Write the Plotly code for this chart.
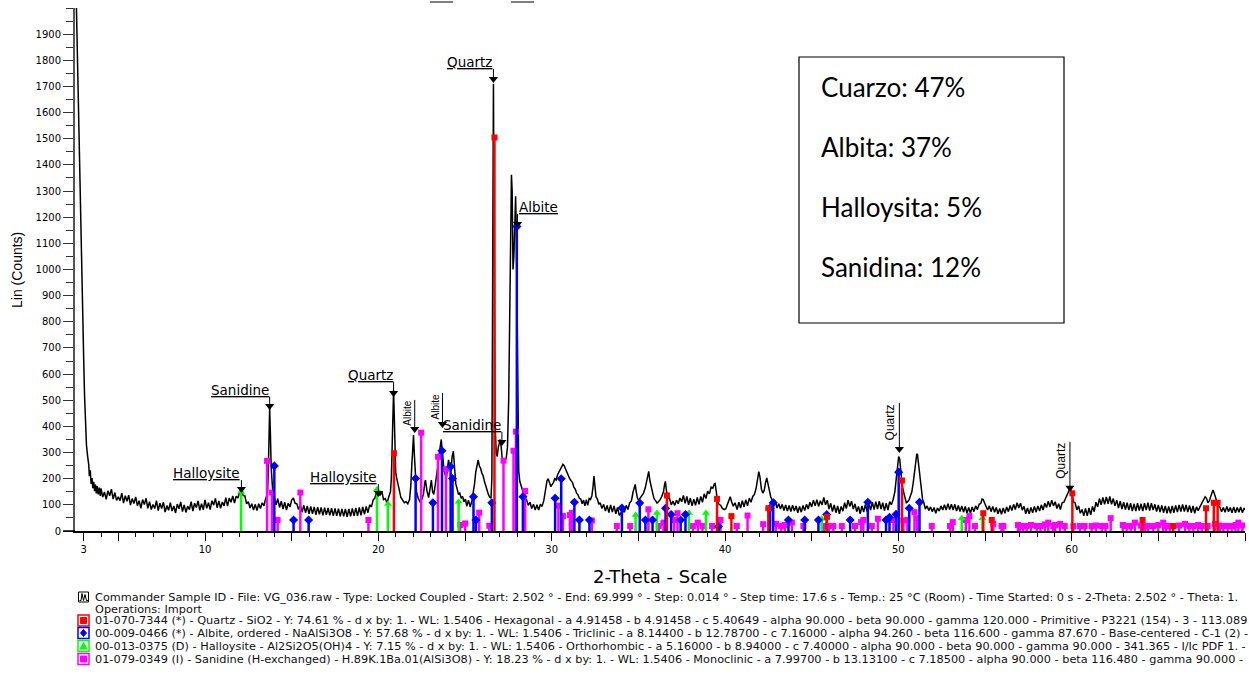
import plotly.graph_objects as go

# ---------------------------------------------------------------------------
# Diffractogram VG_036 : measured scan (2-theta in degrees, counts)
# ---------------------------------------------------------------------------
scan_steep = [
    [2.52, 2200], [2.58, 2000], [2.63, 1850], [2.68, 1710], [2.73, 1500], [2.77, 1300],
    [2.84, 1100], [2.91, 900], [2.96, 760], [3.00, 660], [3.05, 520], [3.10, 420],
    [3.16, 330], [3.22, 290], [3.29, 255], [3.33, 210], [3.38, 232], [3.43, 180],
    [3.48, 202], [3.53, 164], [3.58, 188], [3.63, 152], [3.68, 178], [3.73, 144],
    [3.78, 172], [3.84, 140], [3.90, 166], [3.96, 134],
]

scan_low = [
    [4.0, 163], [4.1, 130], [4.2, 149], [4.3, 121], [4.4, 154], [4.5, 135], [4.6, 160], [4.7, 122], [4.8, 147], [4.9, 117],
    [5.0, 131], [5.1, 116], [5.2, 145], [5.3, 107], [5.4, 135], [5.5, 114], [5.6, 137], [5.7, 99], [5.8, 124], [5.9, 105],
    [6.0, 130], [6.1, 97], [6.2, 116], [6.3, 87], [6.4, 120], [6.5, 101], [6.6, 125], [6.7, 87], [6.8, 112], [6.9, 82],
    [7.0, 101], [7.1, 86], [7.2, 116], [7.3, 78], [7.4, 106], [7.5, 86], [7.6, 110], [7.7, 72], [7.8, 97], [7.9, 79],
    [8.0, 108], [8.1, 76], [8.2, 96], [8.3, 69], [8.4, 103], [8.5, 85], [8.6, 111], [8.7, 74], [8.8, 100], [8.9, 71],
    [9.0, 95], [9.1, 82], [9.2, 112], [9.3, 76], [9.4, 106], [9.5, 90], [9.6, 115], [9.7, 79], [9.8, 104], [9.9, 81],
    [10.0, 119], [10.1, 87], [10.2, 108], [10.3, 82], [10.4, 116], [10.5, 99], [10.6, 125], [10.7, 89], [10.8, 115], [10.9, 87],
    [11.0, 111], [11.1, 96], [11.2, 128], [11.3, 95], [11.4, 126], [11.5, 110], [11.6, 134], [11.7, 107], [11.8, 133], [11.9, 126],
    [12.0, 150], [12.1, 160], [12.2, 136], [12.3, 134], [12.4, 104], [12.5, 112], [12.6, 88], [12.7, 104], [12.8, 80], [12.9, 102],
    [13.0, 78], [13.1, 104], [13.2, 86], [13.3, 108], [13.4, 96], [13.5, 124], [13.6, 140], [13.65, 220], [13.7, 400], [13.73, 470],
    [13.77, 380], [13.82, 240], [13.9, 160], [14.0, 128], [14.1, 100], [14.2, 124], [14.3, 90], [14.4, 114], [14.5, 84], [14.6, 110],
    [14.7, 80], [14.8, 106], [14.9, 92], [15.0, 118], [15.1, 126], [15.2, 106], [15.3, 104], [15.4, 82], [15.5, 100], [15.6, 72],
    [15.7, 98], [15.8, 70], [15.9, 96], [16.0, 66], [16.1, 94], [16.2, 66], [16.3, 92], [16.4, 62], [16.5, 91], [16.6, 64],
    [16.7, 90], [16.8, 60], [16.9, 89], [17.0, 62], [17.1, 88], [17.2, 60], [17.3, 87], [17.4, 58], [17.5, 86], [17.6, 58],
    [17.7, 85], [17.8, 56], [17.9, 84], [18.0, 56], [18.1, 84], [18.2, 54], [18.3, 84], [18.4, 56], [18.5, 86], [18.6, 58],
    [18.7, 88], [18.8, 58], [18.9, 90], [19.0, 60], [19.1, 92], [19.2, 64], [19.3, 94], [19.4, 70], [19.5, 100], [19.6, 92],
    [19.7, 118], [19.8, 126], [19.9, 150], [20.0, 156], [20.1, 136], [20.2, 152], [20.3, 120], [20.4, 124], [20.5, 106], [20.6, 130],
]

scan_mid = [
    [20.7, 150], [20.75, 200], [20.8, 320], [20.85, 500], [20.88, 538], [20.92, 440], [20.96, 300], [21.0, 225],
    [21.05, 205], [21.1, 185], [21.2, 160], [21.3, 128], [21.4, 118], [21.5, 108], [21.6, 112], [21.7, 104],
    [21.8, 120], [21.87, 170], [21.93, 250], [21.98, 330], [22.03, 367], [22.08, 290], [22.13, 200], [22.2, 150],
    [22.3, 125], [22.4, 112], [22.5, 120], [22.6, 140], [22.68, 185], [22.72, 195], [22.8, 155], [22.9, 128],
    [22.98, 160], [23.06, 195], [23.13, 150], [23.2, 140], [23.28, 175], [23.36, 210], [23.45, 255], [23.52, 300],
    [23.58, 340], [23.63, 350], [23.7, 295], [23.78, 240], [23.86, 215], [23.93, 205], [24.0, 245], [24.05, 272],
    [24.12, 240], [24.19, 232], [24.26, 285], [24.33, 305], [24.4, 240], [24.47, 180], [24.55, 160], [24.62, 140],
    [24.7, 145], [24.78, 125], [24.86, 132], [24.94, 112], [25.03, 122], [25.1, 94], [25.2, 118], [25.3, 92],
    [25.4, 116], [25.47, 140], [25.55, 180], [25.62, 225], [25.7, 262], [25.76, 272], [25.83, 248], [25.9, 240],
    [25.97, 222], [26.05, 210], [26.12, 190], [26.2, 170], [26.28, 150], [26.35, 140], [26.42, 130], [26.5, 125],
    [26.55, 200], [26.59, 700], [26.62, 1400], [26.64, 1710], [26.67, 1300], [26.7, 700], [26.74, 400], [26.8, 300],
    [26.86, 285], [26.92, 320], [26.98, 345], [27.03, 350], [27.09, 320], [27.15, 275], [27.22, 258], [27.3, 265],
    [27.38, 280], [27.45, 320], [27.52, 500], [27.58, 900], [27.64, 1250], [27.68, 1362], [27.72, 1300], [27.77, 1000],
    [27.82, 1050], [27.87, 1200], [27.92, 1280], [27.96, 1150], [28.0, 800], [28.05, 420], [28.1, 230], [28.16, 190],
    [28.22, 180], [28.3, 160], [28.38, 135], [28.46, 125], [28.55, 120], [28.65, 98], [28.75, 110], [28.85, 86],
    [28.95, 102], [29.05, 80], [29.15, 100], [29.25, 80], [29.35, 102], [29.45, 94],
]

scan_high = [
    [29.55, 118], [29.65, 160], [29.73, 192], [29.8, 200], [29.88, 185], [29.95, 170], [30.03, 178], [30.1, 185],
    [30.18, 200], [30.26, 195], [30.34, 215], [30.42, 225], [30.5, 238], [30.58, 245], [30.65, 255], [30.72, 250],
    [30.8, 235], [30.88, 222], [30.96, 212], [31.04, 200], [31.12, 192], [31.2, 185], [31.28, 168], [31.36, 160],
    [31.44, 145], [31.52, 138], [31.6, 125], [31.68, 122], [31.76, 104], [31.84, 118], [31.92, 96], [32.0, 120],
    [32.08, 98], [32.16, 124], [32.24, 120], [32.32, 135], [32.38, 165], [32.44, 210], [32.5, 170], [32.56, 130],
    [32.64, 122], [32.72, 102], [32.8, 108], [32.9, 86], [33.0, 102], [33.1, 76], [33.2, 98], [33.3, 70],
    [33.4, 100], [33.5, 72], [33.6, 96], [33.7, 66], [33.8, 90], [33.9, 60], [34.0, 70], [34.05, 50],
    [34.1, 80], [34.2, 72], [34.3, 98], [34.4, 82], [34.5, 108], [34.6, 115], [34.7, 150], [34.76, 172],
    [34.82, 178], [34.88, 150], [34.95, 125], [35.02, 118], [35.1, 125], [35.2, 132], [35.3, 145], [35.4, 165],
    [35.48, 195], [35.55, 222], [35.6, 228], [35.66, 195], [35.74, 165], [35.82, 148], [35.9, 125], [36.0, 115],
    [36.08, 107], [36.16, 112], [36.26, 120], [36.35, 132], [36.45, 150], [36.52, 180], [36.56, 190], [36.62, 155],
    [36.7, 125], [36.8, 124], [36.9, 100], [37.0, 114], [37.1, 98], [37.2, 118], [37.3, 104], [37.4, 126],
    [37.5, 112], [37.6, 136], [37.7, 106], [37.8, 132], [37.9, 100], [38.0, 126], [38.1, 96], [38.2, 122],
    [38.3, 98], [38.4, 128], [38.5, 102], [38.6, 132], [38.7, 110], [38.8, 142], [38.9, 124], [39.0, 152],
    [39.1, 142], [39.2, 168], [39.3, 164], [39.38, 180], [39.43, 182], [39.5, 150], [39.56, 115], [39.65, 102],
    [39.75, 98], [39.85, 86], [39.95, 82], [40.05, 85], [40.15, 105], [40.25, 125], [40.3, 131], [40.38, 112],
    [40.48, 95], [40.58, 108], [40.7, 82], [40.8, 110], [40.9, 88], [41.0, 116], [41.1, 92], [41.2, 120],
    [41.3, 96], [41.4, 126], [41.5, 110], [41.6, 132], [41.7, 140], [41.8, 165], [41.88, 200], [41.95, 227],
    [42.02, 205], [42.1, 160], [42.18, 145], [42.26, 155], [42.34, 185], [42.41, 203], [42.48, 180], [42.56, 150],
    [42.64, 130], [42.72, 119], [42.8, 120], [42.9, 114], [43.0, 88], [43.1, 104], [43.2, 84], [43.3, 102],
    [43.4, 78], [43.5, 100], [43.6, 76], [43.7, 98], [43.8, 74], [43.9, 99], [44.0, 76], [44.1, 96],
    [44.2, 70], [44.3, 94], [44.4, 72], [44.5, 98], [44.6, 78], [44.7, 102], [44.8, 84], [44.9, 110],
    [45.0, 92], [45.1, 118], [45.2, 96], [45.3, 120], [45.4, 94], [45.5, 116], [45.6, 100], [45.7, 128],
    [45.8, 100], [45.9, 118], [46.0, 84], [46.1, 106], [46.2, 74], [46.3, 100], [46.4, 70], [46.5, 96],
    [46.6, 66], [46.7, 94], [46.8, 76], [46.9, 108], [47.0, 86], [47.1, 118], [47.2, 94], [47.3, 114],
    [47.4, 84], [47.5, 104], [47.6, 74], [47.7, 94], [47.8, 66], [47.9, 96], [48.0, 72], [48.1, 102],
    [48.2, 74], [48.3, 106], [48.4, 80], [48.5, 110], [48.6, 82], [48.7, 112], [48.8, 84], [48.9, 114],
    [49.0, 84], [49.1, 108], [49.2, 78], [49.3, 106], [49.4, 80], [49.5, 112], [49.6, 100], [49.7, 120],
    [49.8, 150], [49.88, 200], [49.95, 250], [50.02, 285], [50.08, 275], [50.15, 210], [50.22, 175], [50.3, 150],
    [50.38, 125], [50.46, 108], [50.54, 112], [50.62, 120], [50.7, 135], [50.78, 150], [50.86, 185], [50.93, 225],
    [51.0, 265], [51.06, 292], [51.1, 295], [51.16, 260], [51.24, 200], [51.32, 160], [51.4, 120], [51.48, 106],
    [51.56, 84], [51.66, 96], [51.76, 78], [51.86, 92], [51.96, 74], [52.06, 90], [52.16, 68], [52.26, 88],
    [52.36, 76], [52.46, 96], [52.56, 80], [52.66, 100], [52.76, 80], [52.86, 104], [52.96, 82], [53.06, 102],
    [53.16, 80], [53.26, 102], [53.36, 76], [53.46, 98], [53.56, 74], [53.66, 96], [53.76, 72], [53.86, 94],
    [53.96, 68], [54.06, 90], [54.16, 68], [54.26, 92], [54.36, 74], [54.46, 96], [54.56, 82], [54.66, 102],
    [54.76, 106], [54.83, 122], [54.9, 120], [54.97, 108], [55.05, 98], [55.15, 80], [55.25, 96], [55.35, 74],
    [55.45, 94], [55.55, 72], [55.65, 90], [55.75, 66], [55.85, 86], [55.95, 64], [56.05, 88], [56.15, 68],
    [56.25, 92], [56.35, 74], [56.45, 98], [56.55, 78], [56.65, 102], [56.75, 82], [56.85, 108], [56.95, 88],
    [57.05, 106], [57.15, 80], [57.25, 94], [57.35, 66], [57.45, 88], [57.55, 66], [57.65, 90], [57.75, 70],
    [57.85, 94], [57.95, 72], [58.05, 96], [58.15, 76], [58.25, 100], [58.35, 80], [58.45, 106], [58.55, 90],
    [58.65, 114], [58.75, 92], [58.85, 118], [58.95, 96], [59.05, 112], [59.15, 86], [59.25, 104], [59.35, 82],
    [59.45, 108], [59.55, 110], [59.65, 125], [59.75, 140], [59.85, 155], [59.92, 165], [59.98, 150], [60.05, 128],
    [60.12, 110], [60.2, 108], [60.3, 80], [60.4, 96], [60.5, 68], [60.6, 82], [60.7, 58], [60.8, 86],
    [60.9, 58], [61.0, 88], [61.1, 62], [61.2, 94], [61.3, 74], [61.4, 110], [61.5, 92], [61.6, 124],
    [61.7, 100], [61.8, 128], [61.9, 102], [62.0, 130], [62.1, 104], [62.2, 132], [62.3, 102], [62.4, 124],
    [62.5, 96], [62.6, 118], [62.7, 88], [62.8, 114], [62.9, 84], [63.0, 110], [63.1, 82], [63.2, 108],
    [63.3, 80], [63.4, 106], [63.5, 76], [63.6, 104], [63.7, 76], [63.8, 106], [63.9, 78], [64.0, 104],
    [64.1, 76], [64.2, 106], [64.3, 80], [64.4, 108], [64.5, 78], [64.6, 106], [64.7, 80], [64.8, 102],
    [64.9, 74], [65.0, 100], [65.1, 72], [65.2, 98], [65.3, 70], [65.4, 96], [65.5, 68], [65.6, 94],
    [65.7, 68], [65.8, 96], [65.9, 70], [66.0, 98], [66.1, 72], [66.2, 100], [66.3, 74], [66.4, 102],
    [66.5, 74], [66.6, 100], [66.7, 72], [66.8, 98], [66.9, 70], [67.0, 96], [67.1, 68], [67.2, 92],
    [67.3, 78], [67.4, 92], [67.5, 105], [67.6, 120], [67.7, 131], [67.78, 125], [67.86, 108], [67.94, 115],
    [68.02, 135], [68.1, 152], [68.15, 157], [68.22, 145], [68.3, 125], [68.38, 115], [68.46, 95], [68.55, 92],
    [68.65, 74], [68.75, 90], [68.85, 72], [68.95, 94], [69.05, 74], [69.15, 90], [69.25, 70], [69.35, 92],
    [69.45, 70], [69.55, 90], [69.65, 72], [69.75, 92], [69.85, 70], [69.95, 88], [70.0, 80],
]

# ---------------------------------------------------------------------------
# Reference patterns (stick positions, 2-theta, and scaled intensities)
# ---------------------------------------------------------------------------
quartz_2theta = [20.90, 26.70, 36.65, 39.54, 40.37, 42.50, 45.88, 50.21, 54.90, 55.39,
                 60.04, 64.09, 65.86, 67.75, 68.20, 68.42]
quartz_counts = [297, 1505, 136, 123, 57, 87, 54, 193, 68, 42,
                 144, 42, 19, 87, 108, 108]

albite_2theta = [14.00, 15.11, 15.98, 22.15, 23.15, 23.67, 24.17, 24.28, 25.49, 25.63,
                 26.55, 27.99, 28.34, 30.20, 30.55, 31.31, 31.60, 32.18, 34.05, 35.08,
                 35.41, 35.82, 36.57, 36.89, 37.44, 37.72, 39.62, 42.60, 42.78, 43.66,
                 44.60, 45.39, 45.87, 47.22, 48.24, 49.29, 49.49, 49.87, 50.02, 50.63,
                 51.22]
albite_counts = [249, 42, 42, 201, 108, 307, 246, 201, 131, 42,
                 108, 1164, 131, 125, 200, 110, 42, 42, 88, 107,
                 42, 42, 87, 63, 42, 63, 17, 87, 108, 42,
                 42, 42, 63, 42, 110, 42, 52, 64, 225, 87,
                 110]

halloysite_2theta = [12.08, 19.92, 20.55, 24.63, 34.84, 36.07, 37.92, 38.90, 45.58, 53.66, 54.85]
halloysite_counts = [150, 159, 103, 112, 61, 69, 69, 69, 47, 49, 49]

sanidine_2theta = [13.58, 13.86, 14.19, 15.50, 19.43, 22.47, 23.44, 23.90, 24.72, 25.01,
                   25.82, 26.40, 27.22, 27.80, 27.94, 28.47, 30.39, 30.65, 31.05, 31.17,
                   32.32, 33.76, 34.53, 35.58, 36.18, 36.45, 37.07, 37.26, 38.15, 38.43,
                   38.70, 39.25, 39.74, 40.68, 41.30, 42.20, 42.95, 43.24, 43.86, 44.52,
                   45.70, 46.25, 46.74, 47.50, 47.85, 47.98, 48.47, 48.82, 49.72, 50.29,
                   50.52, 50.93, 51.07, 51.93, 52.98, 53.14, 53.89, 54.10, 54.42, 55.48,
                   56.06, 57.02, 57.40, 57.98, 58.65, 58.94, 59.33, 60.10, 60.48, 61.15,
                   61.73, 62.25, 63.17, 63.65, 64.42, 64.71, 65.28, 65.67, 66.54, 67.02,
                   67.50, 68.27, 68.75, 69.23, 69.62,
                   43.45, 46.00, 55.95, 56.90, 57.20, 57.65, 58.20, 58.45, 59.05, 59.60,
                   60.75, 61.40, 61.95, 62.95, 63.40, 64.00, 64.25, 65.00, 65.45, 66.20,
                   66.80, 67.30, 67.85, 68.55, 69.00, 69.45, 69.85]
sanidine_counts = [268, 147, 42, 147, 42, 376, 284, 236, 23, 29,
                   70, 20, 269, 307, 380, 153, 97, 57, 61, 70,
                   40, 19, 19, 83, 19, 32, 42, 68, 19, 32,
                   19, 19, 42, 19, 59, 26, 27, 19, 32, 19,
                   19, 19, 19, 19, 34, 42, 19, 47, 42, 40,
                   42, 72, 49, 19, 19, 34, 42, 57, 19, 27,
                   19, 19, 19, 19, 32, 19, 27, 19, 19, 19,
                   19, 49, 19, 32, 19, 19, 32, 19, 27, 19,
                   19, 27, 19, 19, 32,
                   23, 19, 19, 23, 19, 23, 19, 25, 23, 19,
                   19, 21, 19, 23, 19, 21, 19, 23, 19, 21,
                   19, 23, 19, 21, 19, 23, 21]

# Peak identifications: label, 2-theta of the arrow, counts at the arrow tip
label_text = ["Halloysite", "Sanidine", "Halloysite", "Quartz", "Albite", "Albite",
              "Sanidine", "Quartz", "Albite", "Quartz", "Quartz"]
label_2theta = [12.10, 13.73, 20.00, 20.88, 22.10, 23.70, 27.13, 26.64, 28.03, 50.06, 59.90]
label_tip = [145, 463, 130, 512, 375, 394, 325, 1713, 1159, 298, 150]

# Tick labels
x_tick_vals = [3, 5, 10, 15, 20, 25, 30, 35, 40, 45, 50, 55, 60, 65, 70]
x_tick_text = ["3", "", "10", "", "20", "", "30", "", "40", "", "50", "", "60", "", "70"]
y_tick_vals = list(range(0, 2000, 100))

# Phase-analysis summary box
summary_lines = ["Cuarzo: 47%", "Albita: 37%", "Halloysita: 5%", "Sanidina: 12%"]

# Legend lines under the axis
legend_lines = [
    "Commander Sample ID - File: VG_036.raw - Type: Locked Coupled - Start: 2.502 ° - End: 69.999 ° - Step: 0.014 ° - Step time: 17.6 s - Temp.: 25 °C (Room) - Time Started: 0 s - 2-Theta: 2.502 ° - Theta: 1.",
    "Operations: Import",
    "01-070-7344 (*) - Quartz - SiO2 - Y: 74.61 % - d x by: 1. - WL: 1.5406 - Hexagonal - a 4.91458 - b 4.91458 - c 5.40649 - alpha 90.000 - beta 90.000 - gamma 120.000 - Primitive - P3221 (154) - 3 - 113.089",
    "00-009-0466 (*) - Albite, ordered - NaAlSi3O8 - Y: 57.68 % - d x by: 1. - WL: 1.5406 - Triclinic - a 8.14400 - b 12.78700 - c 7.16000 - alpha 94.260 - beta 116.600 - gamma 87.670 - Base-centered - C-1 (2) -",
    "00-013-0375 (D) - Halloysite - Al2Si2O5(OH)4 - Y: 7.15 % - d x by: 1. - WL: 1.5406 - Orthorhombic - a 5.16000 - b 8.94000 - c 7.40000 - alpha 90.000 - beta 90.000 - gamma 90.000 - 341.365 - I/Ic PDF 1. -",
    "01-079-0349 (I) - Sanidine (H-exchanged) - H.89K.1Ba.01(AlSi3O8) - Y: 18.23 % - d x by: 1. - WL: 1.5406 - Monoclinic - a 7.99700 - b 13.13100 - c 7.18500 - alpha 90.000 - beta 116.480 - gamma 90.000 -",
]

# ---------------------------------------------------------------------------
# Geometry helpers
# ---------------------------------------------------------------------------
FIG_W, FIG_H = 1249, 675
M_L, M_R, M_T, M_B = 75, 4, 8, 144
PLOT_W = FIG_W - M_L - M_R
PLOT_H = FIG_H - M_T - M_B
X_RANGE = [2.5, 70.0]
Y_RANGE = [0, 2000]
CPP = (Y_RANGE[1] - Y_RANGE[0]) / PLOT_H   # counts per screen pixel


def px_x(px):
    return (px - M_L) / PLOT_W


def px_y(py):
    return (FIG_H - M_B - py) / PLOT_H


HFONT = "DejaVu Sans"
NFONT = "Liberation Sans"

fig = go.Figure()

# measured scan
scan = scan_steep + scan_low + scan_mid + scan_high
fig.add_trace(go.Scatter(
    x=[p[0] for p in scan], y=[p[1] for p in scan], mode="lines",
    line=dict(color="black", width=1.5), hoverinfo="skip"))

# stick patterns
phases = [
    (sanidine_2theta, sanidine_counts, "#FF00FF", "square", 6),
    (halloysite_2theta, halloysite_counts, "#00FF00", "triangle-up", 7),
    (albite_2theta, albite_counts, "#0000FF", "diamond", 7),
    (quartz_2theta, quartz_counts, "#FF0000", "square", 6),
]
for tt, cc, col, sym, msize in phases:
    assert len(tt) == len(cc)
    sx, sy = [], []
    for t, c in zip(tt, cc):
        sx += [t, t, None]
        sy += [0, c, None]
    fig.add_trace(go.Scatter(x=sx, y=sy, mode="lines",
                             line=dict(color=col, width=2.5), hoverinfo="skip"))
    fig.add_trace(go.Scatter(x=tt, y=cc, mode="markers",
                             marker=dict(symbol=sym, size=msize, color=col, line=dict(width=0)),
                             hoverinfo="skip"))

# peak labels: stems, arrow heads and text
label_stem_px = [13, 13, 13, 15, 33, 35, 14, 14, 14, 50, 50]
label_side = ["left", "left", "left", "left", "up", "up", "left", "left", "right", "up", "up"]
label_size = [13.5, 13.5, 13.5, 13.5, 10, 10, 13.5, 13.5, 13.5, 12, 12]

annotations = []
stem_x, stem_y, tri_x, tri_y = [], [], [], []
for text, th, tip, stem, side, fs in zip(label_text, label_2theta, label_tip,
                                          label_stem_px, label_side, label_size):
    top = tip + stem * CPP
    stem_x += [th, th, None]
    stem_y += [tip + 5 * CPP, top, None]
    tri_x.append(th)
    tri_y.append(tip + 4 * CPP)
    if side == "up":
        annotations.append(dict(
            x=th, y=top, xref="x", yref="y", text=text, showarrow=False,
            textangle=-90, xanchor="right", yanchor="top", xshift=-1, borderpad=0,
            font=dict(family=NFONT, size=fs, color="black")))
    else:
        annotations.append(dict(
            x=th, y=top, xref="x", yref="y", text="<u>" + text + "</u>", showarrow=False,
            xanchor="right" if side == "left" else "left", yanchor="bottom",
            yshift=-2, borderpad=0,
            font=dict(family=HFONT, size=fs, color="black")))

fig.add_trace(go.Scatter(x=stem_x, y=stem_y, mode="lines",
                         line=dict(color="black", width=1), hoverinfo="skip"))
fig.add_trace(go.Scatter(x=tri_x, y=tri_y, mode="markers",
                         marker=dict(symbol="triangle-down", size=8, color="black"),
                         hoverinfo="skip"))

shapes = []

# x axis line runs a little past the y axis
shapes.append(dict(type="line", xref="paper", yref="paper", x0=px_x(63), x1=0, y0=0, y1=0,
                   line=dict(color="black", width=1.5)))

# underlines of labels lying above the frame
for a, b in [(430, 453), (511, 534)]:
    shapes.append(dict(type="line", xref="paper", yref="paper", x0=px_x(a), x1=px_x(b),
                       y0=px_y(2), y1=px_y(2), line=dict(color="black", width=1)))

# summary box
shapes.append(dict(type="rect", xref="paper", yref="paper", x0=px_x(799), x1=px_x(1064),
                   y0=px_y(323), y1=px_y(57), line=dict(color="black", width=1.2),
                   fillcolor="white", layer="above"))
for i, line in enumerate(summary_lines):
    annotations.append(dict(x=px_x(819), y=px_y(87 + 60 * i), xref="paper", yref="paper",
                            text=line, showarrow=False, xanchor="left", yanchor="middle",
                            font=dict(family="Lato", size=26, color="black")))

# axis titles
annotations.append(dict(x=px_x(660), y=px_y(576), xref="paper", yref="paper",
                        text="2-Theta - Scale", showarrow=False, xanchor="center", yanchor="middle",
                        font=dict(family=HFONT, size=18, color="black")))
annotations.append(dict(x=px_x(17), y=px_y(270), xref="paper", yref="paper",
                        text="Lin (Counts)", showarrow=False, textangle=-90,
                        xanchor="center", yanchor="middle",
                        font=dict(family=NFONT, size=14, color="black")))

# legend text lines
legend_y = [597, 609, 620.5, 633, 646, 659]
for line, yy in zip(legend_lines, legend_y):
    annotations.append(dict(x=px_x(93), y=px_y(yy), xref="paper", yref="paper", text=line,
                            showarrow=False, xanchor="left", yanchor="middle",
                            font=dict(family=HFONT, size=11.3, color="#111")))

# legend icons
def box(cx, cy, half, color, width):
    return dict(type="rect", xref="paper", yref="paper",
                x0=px_x(cx - half), x1=px_x(cx + half), y0=px_y(cy + half), y1=px_y(cy - half),
                line=dict(color=color, width=width), fillcolor="white")


def path(points, color, fill=True, width=1):
    d = "M " + " L ".join(f"{px_x(a):.5f},{px_y(b):.5f}" for a, b in points)
    if fill:
        d += " Z"
    return dict(type="path", xref="paper", yref="paper", path=d,
                line=dict(color=color, width=width),
                fillcolor=color if fill else "rgba(0,0,0,0)")


icon_cx = 83.5
# scan icon
shapes.append(box(icon_cx, 597, 5, "black", 1))
shapes.append(path([(79.5, 600.5), (81, 600.5), (82, 593.5), (83.5, 600.5), (85, 594.5),
                    (86.5, 600.5), (88, 600.5)], "black", fill=False, width=1))
# phase icons
icon_colors = ["#FF0000", "#0000FF", "#00FF00", "#FF00FF"]
for col, yy, kind in zip(icon_colors, legend_y[2:], ["sq", "dia", "tri", "sq"]):
    shapes.append(box(icon_cx, yy, 5.5, col, 1.5))
    if kind == "sq":
        shapes.append(path([(icon_cx - 3, yy - 3), (icon_cx + 3, yy - 3), (icon_cx + 3, yy + 3),
                            (icon_cx - 3, yy + 3)], col))
    elif kind == "dia":
        shapes.append(path([(icon_cx, yy - 3.5), (icon_cx + 3, yy), (icon_cx, yy + 3.5),
                            (icon_cx - 3, yy)], col))
    else:
        shapes.append(path([(icon_cx, yy - 3.5), (icon_cx + 3.5, yy + 3), (icon_cx - 3.5, yy + 3)], col))

fig.update_layout(
    width=FIG_W, height=FIG_H,
    margin=dict(l=M_L, r=M_R, t=M_T, b=M_B, pad=0),
    paper_bgcolor="white", plot_bgcolor="white",
    showlegend=False,
    font=dict(family=HFONT, size=10, color="black"),
    xaxis=dict(range=X_RANGE, showgrid=False, zeroline=False, showline=True,
               linecolor="black", linewidth=1.5,
               ticks="outside", ticklen=8, tickwidth=1, tickcolor="black",
               tickmode="array", tickvals=x_tick_vals, ticktext=x_tick_text,
               minor=dict(tickmode="linear", tick0=0, dtick=1, ticks="outside",
                          ticklen=4, tickcolor="black", showgrid=False),
               tickfont=dict(family=HFONT, size=10, color="black")),
    yaxis=dict(range=Y_RANGE, showgrid=False, zeroline=False, showline=True,
               linecolor="#555555", linewidth=2,
               ticks="outside", ticklen=10, tickwidth=1, tickcolor="#333333",
               tickmode="array", tickvals=y_tick_vals,
               minor=dict(tickmode="linear", tick0=0, dtick=50, ticks="outside",
                          ticklen=7, tickcolor="#333333", showgrid=False),
               tickfont=dict(family=HFONT, size=10, color="black")),
    shapes=shapes,
    annotations=annotations,
)

fig.write_html("out.html")
